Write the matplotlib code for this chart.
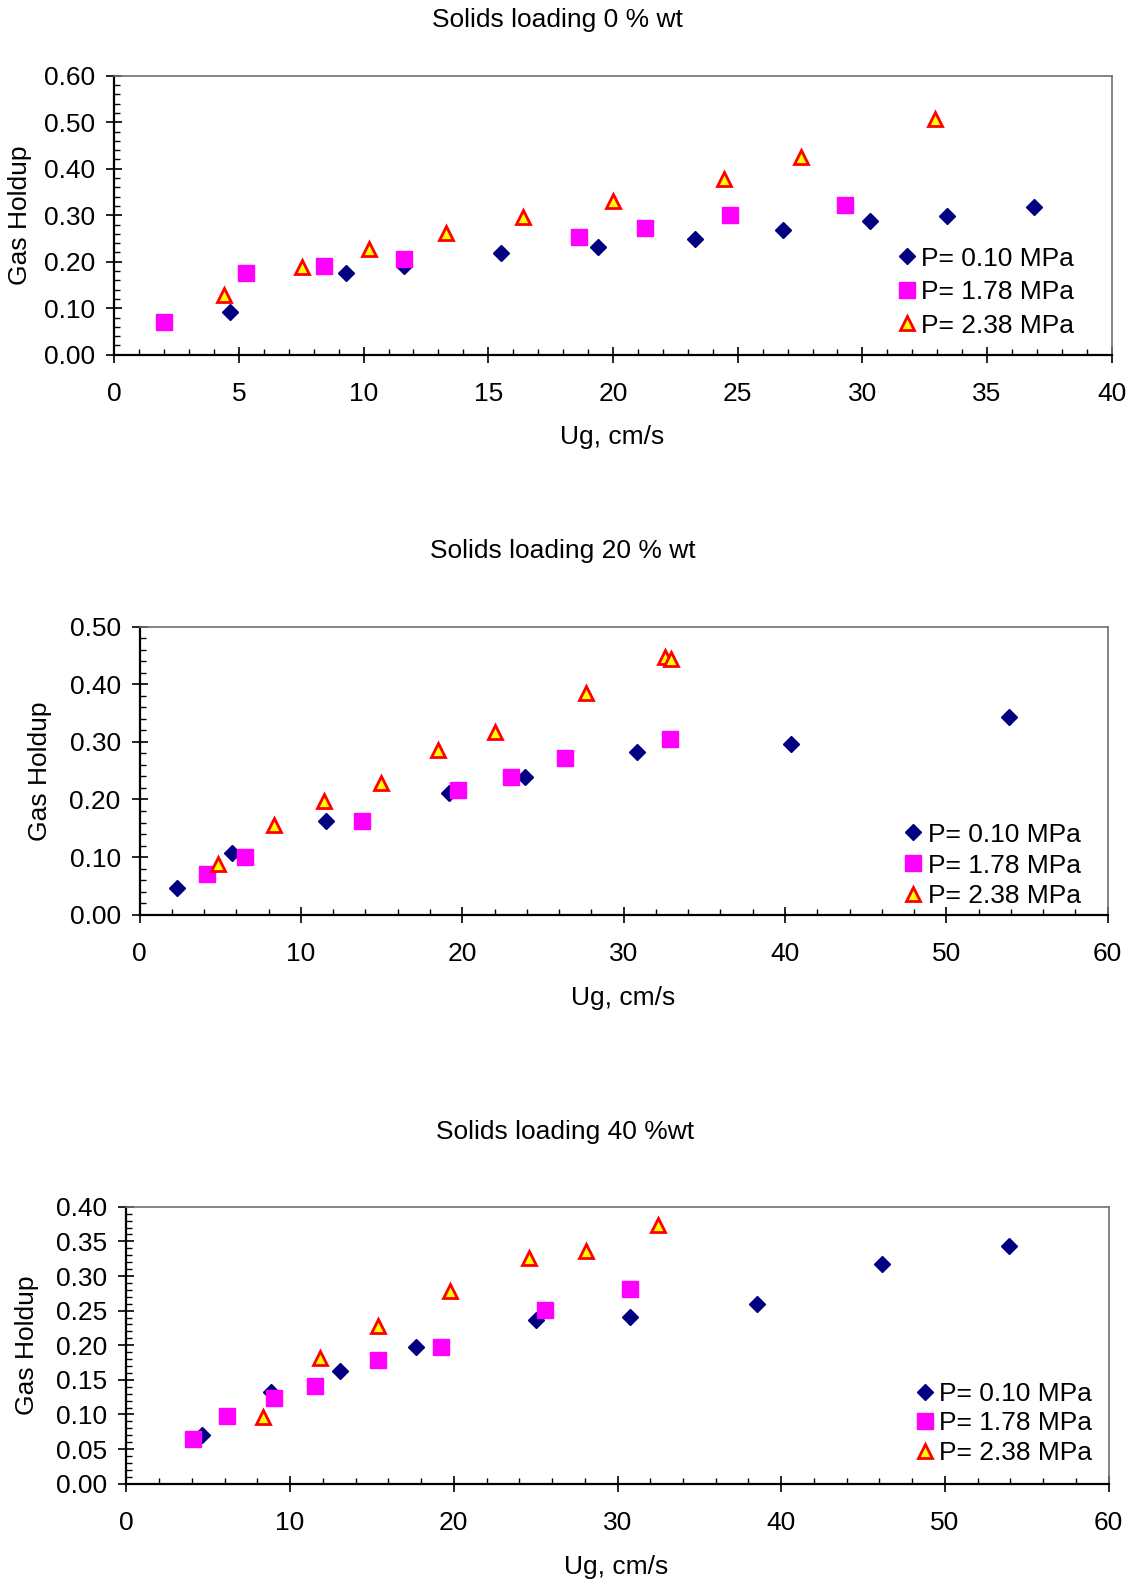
import matplotlib
matplotlib.use('Agg')
import matplotlib.pyplot as plt
from matplotlib.ticker import MultipleLocator, FormatStrFormatter

plt.rcParams['font.family'] = ['Liberation Sans', 'DejaVu Sans']

# ---- data: solids loading 0 % wt ----
ug0_p010 = [4.65, 9.3, 11.6, 15.5, 19.4, 23.3, 26.8, 30.3, 33.4, 36.9]
eg0_p010 = [0.092, 0.176, 0.192, 0.218, 0.231, 0.249, 0.269, 0.288, 0.298, 0.317]
ug0_p178 = [2.0, 5.3, 8.4, 11.6, 18.65, 21.3, 24.7, 29.3]
eg0_p178 = [0.071, 0.175, 0.190, 0.207, 0.253, 0.272, 0.300, 0.323]
ug0_p238 = [4.4, 7.55, 10.2, 13.3, 16.4, 20.0, 24.45, 27.55, 32.9]
eg0_p238 = [0.128, 0.189, 0.227, 0.261, 0.296, 0.330, 0.378, 0.425, 0.508]

# ---- data: solids loading 20 % wt ----
ug20_p010 = [2.3, 5.75, 11.55, 19.2, 23.9, 30.8, 40.4, 53.9]
eg20_p010 = [0.046, 0.107, 0.163, 0.212, 0.239, 0.282, 0.296, 0.343]
ug20_p178 = [4.2, 6.55, 13.8, 19.75, 23.05, 26.35, 32.9]
eg20_p178 = [0.070, 0.101, 0.163, 0.217, 0.239, 0.272, 0.305]
ug20_p238 = [4.85, 8.35, 11.45, 14.95, 18.5, 22.0, 27.7, 32.55, 32.95]
eg20_p238 = [0.088, 0.155, 0.197, 0.228, 0.286, 0.317, 0.384, 0.447, 0.444]

# ---- data: solids loading 40 % wt ----
ug40_p010 = [4.6, 8.85, 13.05, 17.7, 25.0, 30.75, 38.5, 46.15, 53.9]
eg40_p010 = [0.070, 0.133, 0.163, 0.198, 0.236, 0.2415, 0.260, 0.317, 0.344]
ug40_p178 = [4.1, 6.15, 9.0, 11.55, 15.35, 19.25, 25.6, 30.75]
eg40_p178 = [0.065, 0.098, 0.124, 0.141, 0.178, 0.198, 0.251, 0.281]
ug40_p238 = [8.35, 11.85, 15.4, 19.8, 24.6, 28.1, 32.5]
eg40_p238 = [0.096, 0.181, 0.228, 0.278, 0.326, 0.336, 0.373]

labels = ['P= 0.10 MPa', 'P= 1.78 MPa', 'P= 2.38 MPa']

W, H = 1133, 1585
fig = plt.figure(figsize=(W / 100, H / 100), dpi=100)
FS = 19


def rect(l, r, t, b):
    return [l / W, 1 - b / H, (r - l) / W, (b - t) / H]


def panel(box, data, xmax, xmaj, xmin, ymax, ymaj, ymin, leg_anchor, leg_space):
    ax = fig.add_axes(rect(*box))
    (x1, y1), (x2, y2), (x3, y3) = data
    ax.plot(x1, y1, 'D', color='#000080', markersize=8.6, label=labels[0], zorder=3)
    ax.plot(x2, y2, 's', color='#FF00FF', markersize=11, label=labels[1], zorder=3)
    ax.plot(x3, y3, '^', markerfacecolor='#FFFF00', markeredgecolor='#FF0000',
            markeredgewidth=2, markersize=10, label=labels[2], zorder=4)
    ax.set_xlim(0, xmax)
    ax.set_ylim(0, ymax)
    ax.xaxis.set_major_locator(MultipleLocator(xmaj))
    ax.xaxis.set_minor_locator(MultipleLocator(xmin))
    ax.yaxis.set_major_locator(MultipleLocator(ymaj))
    ax.yaxis.set_minor_locator(MultipleLocator(ymin))
    ax.yaxis.set_major_formatter(FormatStrFormatter('%.2f'))
    ax.tick_params(which='major', direction='inout', length=11, width=1.2, labelsize=FS)
    ax.tick_params(axis='y', which='major', pad=8)
    ax.tick_params(axis='x', which='major', pad=14)
    ax.tick_params(which='minor', direction='in', length=4.5, width=1)
    for s in ['left', 'bottom']:
        ax.spines[s].set_linewidth(1.6)
        ax.spines[s].set_color('black')
    for s in ['top', 'right']:
        ax.spines[s].set_linewidth(1.2)
        ax.spines[s].set_color('#707070')
    ax.legend(loc='lower right', bbox_to_anchor=leg_anchor, frameon=False, fontsize=FS,
              numpoints=1, handlelength=0.6, handletextpad=0.25, borderpad=0,
              borderaxespad=0, labelspacing=leg_space)
    return ax


panel((114.2, 1111.8, 75.8, 354.8),
      [(ug0_p010, eg0_p010), (ug0_p178, eg0_p178), (ug0_p238, eg0_p238)],
      40, 5, 1, 0.6, 0.1, 0.02, (0.9625, 0.062), 0.36)
panel((139.5, 1107.7, 626.6, 914.7),
      [(ug20_p010, eg20_p010), (ug20_p178, eg20_p178), (ug20_p238, eg20_p238)],
      60, 10, 2, 0.5, 0.1, 0.02, (0.972, 0.022), 0.26)
panel((126.3, 1108.7, 1206.8, 1483.7),
      [(ug40_p010, eg40_p010), (ug40_p178, eg40_p178), (ug40_p238, eg40_p238)],
      60, 10, 2, 0.4, 0.05, 0.01, (0.9835, 0.068), 0.21)

titles = [('Solids loading 0 % wt', 557, 20.2), ('Solids loading 20 % wt', 563, 551),
          ('Solids loading 40 %wt', 565, 1132)]
for t, x, y in titles:
    fig.text(x / W, 1 - y / H, t, ha='center', va='center', fontsize=FS)

for x, y in [(612.5, 436.6), (623.6, 997.6), (616.5, 1566.6)]:
    fig.text(x / W, 1 - y / H, 'Ug, cm/s', ha='center', va='center', fontsize=FS)

for x, y in [(20.2, 215.3), (40.4, 771), (27.3, 1345)]:
    fig.text(x / W, 1 - y / H, 'Gas Holdup', ha='center', va='center', rotation=90, fontsize=FS)

fig.savefig('out.png', dpi=100)
